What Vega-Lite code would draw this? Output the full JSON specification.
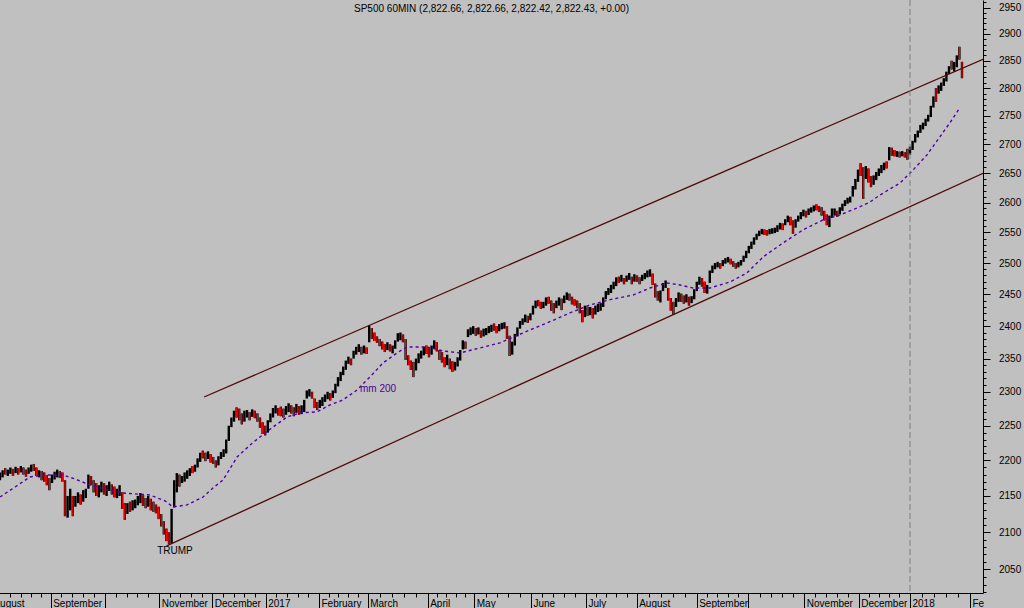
{
  "$schema": "https://vega.github.io/schema/vega-lite/v6.json",
  "width": 983,
  "height": 593,
  "autosize": "none",
  "padding": {"left": 0, "top": 0, "right": 41, "bottom": 15},
  "background": "#c0c0c0",
  "title": {"text": "SP500 60MIN (2,822.66, 2,822.66, 2,822.42, 2,822.43, +0.00)", "anchor": "middle", "frame": "group", "offset": -14, "dy": 13, "baseline": "bottom", "font": "Liberation Sans", "fontSize": 10, "fontWeight": "normal", "color": "#000000"},
  "config": {"view": {"stroke": null}},
  "datasets": {
    "bars": [
      {"t":0,"h":2183,"l":2172,"d":0},{"t":1,"h":2186,"l":2176,"d":0},{"t":2,"h":2189,"l":2180,"d":1},{"t":3,"h":2187,"l":2178,"d":0},
      {"t":4,"h":2190,"l":2181,"d":0},{"t":5,"h":2188,"l":2178,"d":1},{"t":6,"h":2191,"l":2182,"d":0},{"t":7,"h":2189,"l":2180,"d":1},
      {"t":8,"h":2192,"l":2183,"d":0},{"t":9,"h":2190,"l":2180,"d":1},{"t":10,"h":2187,"l":2177,"d":1},{"t":11,"h":2190,"l":2181,"d":0},
      {"t":12,"h":2194,"l":2184,"d":0},{"t":13,"h":2195,"l":2185,"d":1},{"t":14,"h":2190,"l":2178,"d":1},{"t":15,"h":2186,"l":2176,"d":0},
      {"t":16,"h":2185,"l":2172,"d":1},{"t":17,"h":2183,"l":2170,"d":1},{"t":18,"h":2179,"l":2165,"d":1},{"t":19,"h":2175,"l":2158,"d":1},
      {"t":20,"h":2180,"l":2168,"d":0},{"t":21,"h":2184,"l":2173,"d":0},{"t":22,"h":2187,"l":2176,"d":0},{"t":23,"h":2185,"l":2175,"d":1},
      {"t":24,"h":2183,"l":2170,"d":1},{"t":25,"h":2172,"l":2122,"d":1},{"t":26,"h":2150,"l":2120,"d":0},{"t":27,"h":2160,"l":2130,"d":0},
      {"t":28,"h":2150,"l":2122,"d":1},{"t":29,"h":2150,"l":2135,"d":0},{"t":30,"h":2155,"l":2140,"d":0},{"t":31,"h":2152,"l":2138,"d":1},
      {"t":32,"h":2158,"l":2142,"d":0},{"t":33,"h":2160,"l":2147,"d":0},{"t":34,"h":2180,"l":2160,"d":0},{"t":35,"h":2178,"l":2165,"d":1},
      {"t":36,"h":2172,"l":2155,"d":1},{"t":37,"h":2168,"l":2150,"d":1},{"t":38,"h":2165,"l":2148,"d":0},{"t":39,"h":2170,"l":2155,"d":0},
      {"t":40,"h":2168,"l":2152,"d":1},{"t":41,"h":2165,"l":2150,"d":0},{"t":42,"h":2170,"l":2157,"d":0},{"t":43,"h":2166,"l":2152,"d":1},
      {"t":44,"h":2163,"l":2148,"d":1},{"t":45,"h":2160,"l":2147,"d":0},{"t":46,"h":2165,"l":2150,"d":0},{"t":47,"h":2155,"l":2132,"d":1},
      {"t":48,"h":2140,"l":2117,"d":1},{"t":49,"h":2140,"l":2125,"d":0},{"t":50,"h":2142,"l":2128,"d":1},{"t":51,"h":2144,"l":2130,"d":0},
      {"t":52,"h":2145,"l":2133,"d":0},{"t":53,"h":2150,"l":2137,"d":0},{"t":54,"h":2154,"l":2140,"d":0},{"t":55,"h":2151,"l":2136,"d":1},
      {"t":56,"h":2147,"l":2133,"d":1},{"t":57,"h":2150,"l":2135,"d":0},{"t":58,"h":2146,"l":2130,"d":1},{"t":59,"h":2142,"l":2128,"d":1},
      {"t":60,"h":2138,"l":2126,"d":1},{"t":61,"h":2135,"l":2118,"d":1},{"t":62,"h":2125,"l":2108,"d":1},{"t":63,"h":2115,"l":2097,"d":1},
      {"t":64,"h":2105,"l":2088,"d":1},{"t":65,"h":2100,"l":2084,"d":1},{"t":66,"h":2132,"l":2085,"d":0},{"t":67,"h":2172,"l":2134,"d":0},
      {"t":68,"h":2182,"l":2155,"d":0},{"t":69,"h":2180,"l":2163,"d":1},{"t":70,"h":2178,"l":2168,"d":0},{"t":71,"h":2183,"l":2170,"d":0},
      {"t":72,"h":2186,"l":2174,"d":0},{"t":73,"h":2189,"l":2178,"d":0},{"t":74,"h":2192,"l":2182,"d":1},{"t":75,"h":2194,"l":2184,"d":0},
      {"t":76,"h":2203,"l":2190,"d":0},{"t":77,"h":2211,"l":2198,"d":0},{"t":78,"h":2214,"l":2203,"d":1},{"t":79,"h":2211,"l":2199,"d":1},
      {"t":80,"h":2213,"l":2202,"d":0},{"t":81,"h":2209,"l":2197,"d":1},{"t":82,"h":2205,"l":2195,"d":1},{"t":83,"h":2200,"l":2190,"d":1},
      {"t":84,"h":2206,"l":2193,"d":0},{"t":85,"h":2212,"l":2202,"d":0},{"t":86,"h":2216,"l":2205,"d":0},{"t":87,"h":2230,"l":2210,"d":0},
      {"t":88,"h":2250,"l":2228,"d":0},{"t":89,"h":2262,"l":2248,"d":0},{"t":90,"h":2272,"l":2256,"d":0},{"t":91,"h":2277,"l":2262,"d":1},
      {"t":92,"h":2275,"l":2258,"d":1},{"t":93,"h":2268,"l":2252,"d":1},{"t":94,"h":2272,"l":2256,"d":0},{"t":95,"h":2273,"l":2262,"d":0},
      {"t":96,"h":2270,"l":2258,"d":1},{"t":97,"h":2274,"l":2263,"d":0},{"t":98,"h":2272,"l":2261,"d":1},{"t":99,"h":2268,"l":2256,"d":1},
      {"t":100,"h":2262,"l":2247,"d":1},{"t":101,"h":2255,"l":2238,"d":1},{"t":102,"h":2250,"l":2236,"d":1},{"t":103,"h":2258,"l":2240,"d":0},
      {"t":104,"h":2268,"l":2255,"d":0},{"t":105,"h":2276,"l":2262,"d":0},{"t":106,"h":2280,"l":2268,"d":0},{"t":107,"h":2276,"l":2265,"d":1},
      {"t":108,"h":2278,"l":2264,"d":1},{"t":109,"h":2275,"l":2262,"d":1},{"t":110,"h":2279,"l":2266,"d":0},{"t":111,"h":2283,"l":2270,"d":0},
      {"t":112,"h":2280,"l":2268,"d":1},{"t":113,"h":2277,"l":2264,"d":1},{"t":114,"h":2282,"l":2269,"d":0},{"t":115,"h":2279,"l":2266,"d":1},
      {"t":116,"h":2280,"l":2267,"d":0},{"t":117,"h":2288,"l":2270,"d":0},{"t":118,"h":2302,"l":2290,"d":0},{"t":119,"h":2304,"l":2293,"d":0},
      {"t":120,"h":2300,"l":2290,"d":1},{"t":121,"h":2290,"l":2276,"d":1},{"t":122,"h":2285,"l":2273,"d":1},{"t":123,"h":2288,"l":2276,"d":0},
      {"t":124,"h":2292,"l":2279,"d":0},{"t":125,"h":2296,"l":2285,"d":0},{"t":126,"h":2300,"l":2289,"d":0},{"t":127,"h":2298,"l":2287,"d":1},
      {"t":128,"h":2302,"l":2291,"d":0},{"t":129,"h":2312,"l":2298,"d":0},{"t":130,"h":2322,"l":2308,"d":0},{"t":131,"h":2330,"l":2316,"d":0},
      {"t":132,"h":2338,"l":2325,"d":0},{"t":133,"h":2347,"l":2333,"d":0},{"t":134,"h":2353,"l":2342,"d":0},{"t":135,"h":2350,"l":2340,"d":1},
      {"t":136,"h":2362,"l":2350,"d":0},{"t":137,"h":2368,"l":2356,"d":0},{"t":138,"h":2372,"l":2360,"d":0},{"t":139,"h":2368,"l":2356,"d":1},
      {"t":140,"h":2370,"l":2358,"d":0},{"t":141,"h":2367,"l":2357,"d":1},{"t":142,"h":2401,"l":2375,"d":0},{"t":143,"h":2397,"l":2380,"d":1},
      {"t":144,"h":2390,"l":2377,"d":1},{"t":145,"h":2384,"l":2374,"d":1},{"t":146,"h":2380,"l":2369,"d":1},{"t":147,"h":2376,"l":2364,"d":1},
      {"t":148,"h":2372,"l":2360,"d":1},{"t":149,"h":2375,"l":2363,"d":0},{"t":150,"h":2372,"l":2361,"d":1},{"t":151,"h":2370,"l":2358,"d":0},
      {"t":152,"h":2378,"l":2365,"d":0},{"t":153,"h":2389,"l":2376,"d":0},{"t":154,"h":2390,"l":2378,"d":0},{"t":155,"h":2387,"l":2375,"d":1},
      {"t":156,"h":2380,"l":2348,"d":1},{"t":157,"h":2355,"l":2340,"d":1},{"t":158,"h":2347,"l":2333,"d":1},{"t":159,"h":2345,"l":2322,"d":1},
      {"t":160,"h":2350,"l":2332,"d":0},{"t":161,"h":2358,"l":2343,"d":0},{"t":162,"h":2362,"l":2350,"d":0},{"t":163,"h":2368,"l":2355,"d":0},
      {"t":164,"h":2370,"l":2357,"d":1},{"t":165,"h":2366,"l":2352,"d":1},{"t":166,"h":2370,"l":2356,"d":0},{"t":167,"h":2378,"l":2365,"d":0},
      {"t":168,"h":2375,"l":2361,"d":1},{"t":169,"h":2363,"l":2348,"d":1},{"t":170,"h":2360,"l":2344,"d":1},{"t":171,"h":2352,"l":2337,"d":1},
      {"t":172,"h":2356,"l":2340,"d":0},{"t":173,"h":2350,"l":2334,"d":1},{"t":174,"h":2346,"l":2330,"d":1},{"t":175,"h":2345,"l":2332,"d":0},
      {"t":176,"h":2352,"l":2338,"d":0},{"t":177,"h":2363,"l":2347,"d":0},{"t":178,"h":2378,"l":2364,"d":0},{"t":179,"h":2376,"l":2365,"d":1},
      {"t":180,"h":2395,"l":2383,"d":0},{"t":181,"h":2398,"l":2386,"d":0},{"t":182,"h":2400,"l":2388,"d":0},{"t":183,"h":2397,"l":2385,"d":1},
      {"t":184,"h":2398,"l":2387,"d":0},{"t":185,"h":2393,"l":2382,"d":1},{"t":186,"h":2396,"l":2384,"d":0},{"t":187,"h":2397,"l":2386,"d":0},
      {"t":188,"h":2400,"l":2389,"d":0},{"t":189,"h":2402,"l":2391,"d":0},{"t":190,"h":2404,"l":2393,"d":1},{"t":191,"h":2400,"l":2389,"d":1},
      {"t":192,"h":2403,"l":2392,"d":0},{"t":193,"h":2405,"l":2395,"d":0},{"t":194,"h":2406,"l":2396,"d":0},{"t":195,"h":2400,"l":2380,"d":1},
      {"t":196,"h":2385,"l":2354,"d":1},{"t":197,"h":2376,"l":2356,"d":0},{"t":198,"h":2388,"l":2370,"d":0},{"t":199,"h":2398,"l":2384,"d":0},
      {"t":200,"h":2408,"l":2396,"d":0},{"t":201,"h":2412,"l":2402,"d":0},{"t":202,"h":2418,"l":2406,"d":0},{"t":203,"h":2416,"l":2405,"d":1},
      {"t":204,"h":2420,"l":2409,"d":0},{"t":205,"h":2432,"l":2418,"d":0},{"t":206,"h":2440,"l":2428,"d":0},{"t":207,"h":2441,"l":2431,"d":1},
      {"t":208,"h":2438,"l":2427,"d":1},{"t":209,"h":2438,"l":2428,"d":0},{"t":210,"h":2445,"l":2432,"d":0},{"t":211,"h":2446,"l":2435,"d":1},
      {"t":212,"h":2440,"l":2424,"d":1},{"t":213,"h":2436,"l":2420,"d":1},{"t":214,"h":2440,"l":2428,"d":0},{"t":215,"h":2445,"l":2432,"d":0},
      {"t":216,"h":2443,"l":2425,"d":1},{"t":217,"h":2448,"l":2436,"d":0},{"t":218,"h":2453,"l":2441,"d":0},{"t":219,"h":2451,"l":2440,"d":1},
      {"t":220,"h":2446,"l":2434,"d":1},{"t":221,"h":2442,"l":2432,"d":1},{"t":222,"h":2440,"l":2428,"d":1},{"t":223,"h":2436,"l":2420,"d":1},
      {"t":224,"h":2425,"l":2406,"d":1},{"t":225,"h":2432,"l":2414,"d":0},{"t":226,"h":2430,"l":2416,"d":1},{"t":227,"h":2430,"l":2417,"d":0},
      {"t":228,"h":2428,"l":2412,"d":1},{"t":229,"h":2432,"l":2418,"d":0},{"t":230,"h":2435,"l":2422,"d":0},{"t":231,"h":2436,"l":2424,"d":0},
      {"t":232,"h":2445,"l":2430,"d":0},{"t":233,"h":2455,"l":2442,"d":0},{"t":234,"h":2460,"l":2449,"d":0},{"t":235,"h":2465,"l":2452,"d":0},
      {"t":236,"h":2470,"l":2458,"d":0},{"t":237,"h":2477,"l":2463,"d":0},{"t":238,"h":2478,"l":2468,"d":1},{"t":239,"h":2481,"l":2470,"d":0},
      {"t":240,"h":2476,"l":2466,"d":1},{"t":241,"h":2480,"l":2470,"d":0},{"t":242,"h":2484,"l":2473,"d":0},{"t":243,"h":2478,"l":2466,"d":1},
      {"t":244,"h":2482,"l":2470,"d":0},{"t":245,"h":2480,"l":2470,"d":1},{"t":246,"h":2477,"l":2466,"d":1},{"t":247,"h":2481,"l":2471,"d":0},
      {"t":248,"h":2484,"l":2474,"d":0},{"t":249,"h":2488,"l":2477,"d":0},{"t":250,"h":2490,"l":2478,"d":0},{"t":251,"h":2483,"l":2465,"d":1},
      {"t":252,"h":2467,"l":2445,"d":1},{"t":253,"h":2455,"l":2440,"d":1},{"t":254,"h":2456,"l":2437,"d":0},{"t":255,"h":2468,"l":2455,"d":0},
      {"t":256,"h":2472,"l":2460,"d":0},{"t":257,"h":2460,"l":2440,"d":1},{"t":258,"h":2444,"l":2424,"d":1},{"t":259,"h":2438,"l":2418,"d":1},
      {"t":260,"h":2444,"l":2430,"d":0},{"t":261,"h":2453,"l":2438,"d":0},{"t":262,"h":2451,"l":2438,"d":1},{"t":263,"h":2448,"l":2435,"d":1},
      {"t":264,"h":2450,"l":2437,"d":0},{"t":265,"h":2446,"l":2432,"d":1},{"t":266,"h":2447,"l":2436,"d":0},{"t":267,"h":2458,"l":2442,"d":0},
      {"t":268,"h":2470,"l":2455,"d":0},{"t":269,"h":2478,"l":2465,"d":0},{"t":270,"h":2476,"l":2462,"d":1},{"t":271,"h":2470,"l":2452,"d":1},
      {"t":272,"h":2465,"l":2451,"d":0},{"t":273,"h":2488,"l":2468,"d":0},{"t":274,"h":2496,"l":2484,"d":0},{"t":275,"h":2500,"l":2490,"d":0},
      {"t":276,"h":2502,"l":2493,"d":0},{"t":277,"h":2500,"l":2491,"d":1},{"t":278,"h":2505,"l":2495,"d":0},{"t":279,"h":2508,"l":2499,"d":0},
      {"t":280,"h":2510,"l":2501,"d":0},{"t":281,"h":2507,"l":2498,"d":1},{"t":282,"h":2503,"l":2494,"d":1},{"t":283,"h":2500,"l":2491,"d":1},
      {"t":284,"h":2502,"l":2493,"d":0},{"t":285,"h":2505,"l":2496,"d":0},{"t":286,"h":2512,"l":2502,"d":0},{"t":287,"h":2520,"l":2508,"d":0},
      {"t":288,"h":2528,"l":2516,"d":0},{"t":289,"h":2535,"l":2523,"d":0},{"t":290,"h":2542,"l":2530,"d":0},{"t":291,"h":2548,"l":2538,"d":0},
      {"t":292,"h":2553,"l":2544,"d":0},{"t":293,"h":2556,"l":2547,"d":0},{"t":294,"h":2555,"l":2546,"d":1},{"t":295,"h":2554,"l":2545,"d":1},
      {"t":296,"h":2556,"l":2547,"d":0},{"t":297,"h":2557,"l":2548,"d":0},{"t":298,"h":2558,"l":2549,"d":0},{"t":299,"h":2562,"l":2551,"d":0},
      {"t":300,"h":2566,"l":2555,"d":0},{"t":301,"h":2565,"l":2554,"d":1},{"t":302,"h":2572,"l":2562,"d":0},{"t":303,"h":2578,"l":2567,"d":0},
      {"t":304,"h":2576,"l":2562,"d":1},{"t":305,"h":2570,"l":2548,"d":1},{"t":306,"h":2572,"l":2558,"d":0},{"t":307,"h":2578,"l":2568,"d":0},
      {"t":308,"h":2584,"l":2572,"d":0},{"t":309,"h":2588,"l":2577,"d":0},{"t":310,"h":2586,"l":2575,"d":1},{"t":311,"h":2590,"l":2579,"d":0},
      {"t":312,"h":2592,"l":2583,"d":0},{"t":313,"h":2595,"l":2585,"d":0},{"t":314,"h":2597,"l":2587,"d":1},{"t":315,"h":2594,"l":2584,"d":1},
      {"t":316,"h":2592,"l":2578,"d":1},{"t":317,"h":2586,"l":2570,"d":1},{"t":318,"h":2580,"l":2562,"d":1},{"t":319,"h":2578,"l":2559,"d":0},
      {"t":320,"h":2590,"l":2574,"d":0},{"t":321,"h":2590,"l":2578,"d":0},{"t":322,"h":2586,"l":2576,"d":1},{"t":323,"h":2592,"l":2580,"d":0},
      {"t":324,"h":2598,"l":2586,"d":0},{"t":325,"h":2604,"l":2594,"d":0},{"t":326,"h":2608,"l":2598,"d":0},{"t":327,"h":2610,"l":2600,"d":0},
      {"t":328,"h":2628,"l":2610,"d":0},{"t":329,"h":2640,"l":2622,"d":0},{"t":330,"h":2656,"l":2635,"d":0},{"t":331,"h":2667,"l":2645,"d":1},
      {"t":332,"h":2660,"l":2606,"d":1},{"t":333,"h":2662,"l":2640,"d":0},{"t":334,"h":2658,"l":2634,"d":1},{"t":335,"h":2645,"l":2626,"d":1},
      {"t":336,"h":2646,"l":2630,"d":0},{"t":337,"h":2652,"l":2638,"d":0},{"t":338,"h":2658,"l":2645,"d":0},{"t":339,"h":2664,"l":2650,"d":0},
      {"t":340,"h":2668,"l":2655,"d":0},{"t":341,"h":2670,"l":2658,"d":1},{"t":342,"h":2695,"l":2672,"d":0},{"t":343,"h":2694,"l":2680,"d":1},
      {"t":344,"h":2690,"l":2679,"d":1},{"t":345,"h":2688,"l":2678,"d":0},{"t":346,"h":2687,"l":2677,"d":1},{"t":347,"h":2688,"l":2679,"d":0},
      {"t":348,"h":2686,"l":2677,"d":1},{"t":349,"h":2692,"l":2673,"d":1},{"t":350,"h":2696,"l":2682,"d":0},{"t":351,"h":2706,"l":2690,"d":0},
      {"t":352,"h":2718,"l":2703,"d":0},{"t":353,"h":2724,"l":2712,"d":0},{"t":354,"h":2734,"l":2720,"d":0},{"t":355,"h":2738,"l":2726,"d":0},
      {"t":356,"h":2745,"l":2732,"d":0},{"t":357,"h":2752,"l":2740,"d":0},{"t":358,"h":2768,"l":2748,"d":0},{"t":359,"h":2785,"l":2765,"d":0},
      {"t":360,"h":2800,"l":2775,"d":1},{"t":361,"h":2805,"l":2790,"d":0},{"t":362,"h":2810,"l":2795,"d":0},{"t":363,"h":2818,"l":2804,"d":0},
      {"t":364,"h":2830,"l":2812,"d":0},{"t":365,"h":2840,"l":2826,"d":0},{"t":366,"h":2850,"l":2834,"d":1},{"t":367,"h":2848,"l":2830,"d":0},
      {"t":368,"h":2860,"l":2838,"d":0},{"t":369,"h":2876,"l":2852,"d":1},{"t":370,"h":2848,"l":2818,"d":1}
    ],
    "ma": [
      {"t":0,"p":2148.5},{"t":5.8,"p":2162.5},{"t":11.5,"p":2176.6},{"t":17.3,"p":2179.4},{"t":24.2,"p":2179.4},{"t":28.8,"p":2173.8},
      {"t":34.6,"p":2165.4},{"t":40.4,"p":2159.7},{"t":47.3,"p":2154.1},{"t":57.7,"p":2151.3},{"t":63.5,"p":2143},{"t":66.5,"p":2134.8},
      {"t":71.9,"p":2137.5},{"t":78.1,"p":2148.5},{"t":81.9,"p":2161.1},{"t":85.8,"p":2172.4},{"t":91.2,"p":2204.9},{"t":96.2,"p":2222.2},
      {"t":100,"p":2233.7},{"t":105,"p":2248.1},{"t":110.4,"p":2262.9},{"t":115.4,"p":2268.8},{"t":121.9,"p":2270.3},{"t":126.9,"p":2280.5},
      {"t":131.9,"p":2287.9},{"t":137.3,"p":2302.7},{"t":142.3,"p":2322.3},{"t":147.3,"p":2343.4},{"t":152.7,"p":2358.6},{"t":156.5,"p":2367.8},
      {"t":164.2,"p":2367.8},{"t":170.4,"p":2361.7},{"t":176.9,"p":2358.6},{"t":184.6,"p":2366.3},{"t":192.3,"p":2374},{"t":203.8,"p":2394},
      {"t":210.4,"p":2404.9},{"t":219.2,"p":2420.5},{"t":226.9,"p":2433.1},{"t":235.8,"p":2442.5},{"t":243.5,"p":2448.7},{"t":250,"p":2460},
      {"t":256.5,"p":2468},{"t":261.5,"p":2464.8},{"t":266.5,"p":2460},{"t":273.1,"p":2460},{"t":280.8,"p":2469.6},{"t":287.3,"p":2484.1},
      {"t":293.5,"p":2509.9},{"t":301.2,"p":2532.9},{"t":308.8,"p":2554.2},{"t":316.5,"p":2570.8},{"t":323.1,"p":2579.2},{"t":329.6,"p":2590.8},
      {"t":334.6,"p":2600.8},{"t":338.5,"p":2612.8},{"t":346.2,"p":2633.2},{"t":351.2,"p":2655.4},{"t":356.5,"p":2681.3},{"t":361.5,"p":2713},
      {"t":365.4,"p":2738.1},{"t":369.2,"p":2764.7}
    ],
    "chan": [
      {"k":"up","t":78.5,"p":2292.3},{"k":"up","t":378.08,"p":2852.6},
      {"k":"lo","t":64.1,"p":2081.6},{"k":"lo","t":378.08,"p":2649.7}
    ],
    "vline": [{"t":350}],
    "notes": [
      {"t":67.3,"p":2075,"txt":"TRUMP"},
      {"t":145.4,"p":2304,"txt":"mm 200"}
    ]
  },
  "layer": [
    {
      "data": {"name": "bars"},
      "mark": {"type": "rule", "strokeWidth": 2.4, "strokeCap": "butt", "color": "#000000"},
      "encoding": {
        "x": {
          "field": "t", "type": "quantitative",
          "scale": {"domain": [-3.5, 378.08], "range": [-9.1, 983], "nice": false, "zero": false},
          "axis": {
            "orient": "bottom", "title": null, "grid": false, "tickCount": 1000,
            "values": [-3.5,3.85,7.96,11.81,15.65,19.5,23.65,27.81,31.96,36.12,40.27,44.47,48.67,52.87,57.07,61.27,65.35,69.42,73.5,77.57,81.65,85.76,89.87,93.97,98.08,102.19,106.29,110.39,114.49,118.59,122.69,126.44,130.18,133.93,137.67,141.42,146.04,150.65,155.27,159.88,164.5,168.08,171.67,175.25,178.84,182.42,186.78,191.14,195.51,199.87,204.23,208.46,212.69,216.92,221.15,225.38,229.28,233.18,237.08,240.98,244.88,249.5,254.11,258.73,263.34,267.96,271.93,275.9,279.87,283.84,287.81,292.12,296.43,300.73,305.04,309.35,313.53,317.72,321.9,326.09,330.27,334.16,338.05,341.95,345.84,350,354.62,359.23,363.85,368.46,373.08],
            "labelExpr": "['August','September','','November','December','2017','February','March','April','May','June','July','August','September','','November','December','2018','Fe'][indexof([-3.5,19.5,40.27,61.27,81.65,102.19,122.69,141.42,164.5,182.42,204.23,225.38,244.88,267.96,287.81,309.35,330.27,350,373.08], datum.value)] || ''",
            "tickSize": {"expr": "indexof([-3.5,19.5,40.27,61.27,81.65,102.19,122.69,141.42,164.5,182.42,204.23,225.38,244.88,267.96,287.81,309.35,330.27,350,373.08], datum.value) >= 0 ? 15 : 4"},
            "labelPadding": -10,
            "labelAlign": "left", "labelBaseline": "top", "labelOffset": 2,
            "labelFont": "Liberation Sans", "labelFontSize": 10, "labelColor": "#000000",
            "labelOverlap": false, "labelBound": false, "labelFlush": false,
            "domainColor": "#000000", "tickColor": "#000000", "tickWidth": 1, "domainWidth": 1
          }
        },
        "y": {
          "field": "l", "type": "quantitative",
          "scale": {"type": "log", "domain": [2019, 2964.4], "nice": false, "zero": false},
          "axis": {
            "orient": "right", "title": null, "grid": false, "tickCount": 1000,
            "values": [2020,2030,2040,2050,2060,2070,2080,2090,2100,2110,2120,2130,2140,2150,2160,2170,2180,2190,2200,2210,2220,2230,2240,2250,2260,2270,2280,2290,2300,2310,2320,2330,2340,2350,2360,2370,2380,2390,2400,2410,2420,2430,2440,2450,2460,2470,2480,2490,2500,2510,2520,2530,2540,2550,2560,2570,2580,2590,2600,2610,2620,2630,2640,2650,2660,2670,2680,2690,2700,2710,2720,2730,2740,2750,2760,2770,2780,2790,2800,2810,2820,2830,2840,2850,2860,2870,2880,2890,2900,2910,2920,2930,2940,2950,2960],
            "labelExpr": "datum.value % 50 == 0 ? format(datum.value, 'd') : ''",
            "tickSize": {"expr": "datum.value % 50 == 0 ? 7 : 3"},
            "labelPadding": 8.5,
            "labelFont": "Liberation Sans", "labelFontSize": 10, "labelColor": "#000000",
            "labelOverlap": false, "labelBound": false, "labelFlush": false,
            "domainColor": "#000000", "tickColor": "#000000", "tickWidth": 1, "domainWidth": 1
          }
        },
        "y2": {"field": "h"}
      }
    },
    {
      "data": {"name": "bars"},
      "transform": [{"filter": "datum.d == 1"}],
      "mark": {"type": "rule", "strokeWidth": 1.3, "strokeCap": "butt", "color": "#ff0000"},
      "encoding": {
        "x": {"field": "t", "type": "quantitative"},
        "y": {"field": "l", "type": "quantitative"},
        "y2": {"field": "h"}
      }
    },
    {
      "data": {"name": "ma"},
      "mark": {"type": "line", "color": "#5000a8", "strokeWidth": 1.4, "strokeDash": [3, 3]},
      "encoding": {
        "x": {"field": "t", "type": "quantitative"},
        "y": {"field": "p", "type": "quantitative"}
      }
    },
    {
      "data": {"name": "chan"},
      "mark": {"type": "line", "color": "#500a0a", "strokeWidth": 1.3, "clip": true},
      "encoding": {
        "x": {"field": "t", "type": "quantitative"},
        "y": {"field": "p", "type": "quantitative"},
        "detail": {"field": "k", "type": "nominal"}
      }
    },
    {
      "data": {"name": "vline"},
      "mark": {"type": "rule", "color": "#808080", "strokeWidth": 1, "strokeDash": [6, 3]},
      "encoding": {
        "x": {"field": "t", "type": "quantitative"}
      }
    },
    {
      "data": {"name": "notes"},
      "mark": {"type": "text", "font": "Liberation Sans", "fontSize": 10, "baseline": "middle", "align": "center"},
      "encoding": {
        "x": {"field": "t", "type": "quantitative"},
        "y": {"field": "p", "type": "quantitative"},
        "text": {"field": "txt"},
        "color": {"condition": {"test": "datum.txt == 'TRUMP'", "value": "#000000"}, "value": "#4b0096"}
      }
    }
  ]
}
